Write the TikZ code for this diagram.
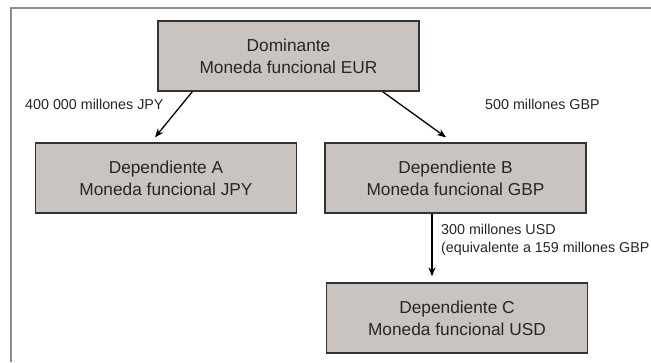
\documentclass[tikz,border=0pt]{standalone}
\usepackage{fontspec}
\setmainfont{Liberation Sans}
\usetikzlibrary{arrows.meta}
\definecolor{boxgray}{RGB}{202,196,193}
\definecolor{framegray}{RGB}{140,140,140}
\begin{document}
\begin{tikzpicture}[x=1pt,y=-1pt,
    entity/.style={draw=black!80,line width=1.3pt,fill=boxgray,text=black!85,
      minimum width=261pt,minimum height=70pt,align=center,inner sep=0pt,
      font=\fontsize{17.3}{22}\selectfont},
    amount/.style={text=black!85,inner sep=0pt,align=left,
      font=\fontsize{14.3}{18}\selectfont},
    link/.style={line width=1.3pt,-{Stealth[length=9pt,width=7pt]}}]
    \useasboundingbox (0,0) rectangle (651,362);
    \draw[framegray,line width=1.5pt] (11,362) -- (11,8) -- (651,8);
    \node[entity] (dom) at (288.5,56) {Dominante\\Moneda funcional EUR};
    \node[entity] (depA) at (166,178) {Dependiente A\\Moneda funcional JPY};
    \node[entity] (depB) at (455.5,178) {Dependiente B\\Moneda funcional GBP};
    \node[entity] (depC) at (457,318) {Dependiente C\\Moneda funcional USD};
    \node[amount,anchor=west] (jpy) at (25,104) {400 000 millones JPY};
    \node[amount,anchor=west] (gbp) at (485,104) {500 millones GBP};
    \node[amount,anchor=north west] (usd) at (441,224)
      {300 millones USD\\(equivalente a 159 millones GBP};
    \draw[link] ([xshift=35pt]dom.south west) -- ([xshift=-11pt,yshift=5pt]depA.north);
    \draw[link] ([xshift=-37pt]dom.south east) -- ([xshift=-9.5pt,yshift=5pt]depB.north);
    \draw[link] ([xshift=-23.5pt]depB.south) -- ([xshift=-25pt,yshift=6pt]depC.north);
\end{tikzpicture}
\end{document}
